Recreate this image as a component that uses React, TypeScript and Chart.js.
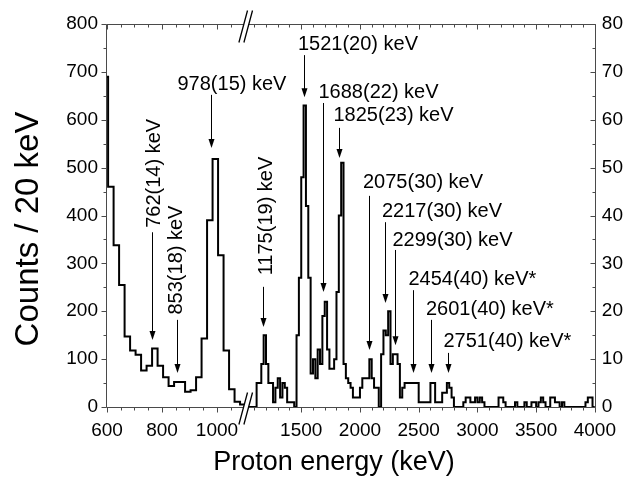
import React, { useEffect, useRef } from 'react';
import { Chart, registerables } from 'chart.js';

Chart.register(...registerables);

// ---------------- data ----------------
const BIN_WIDTH = 20; // keV
const LEFT_FIRST_EDGE = 584; // keV, left (low-energy) segment bin edges
const RIGHT_FIRST_EDGE = 1040; // keV, right segment bin edges

// counts / 20 keV, left axis (0-800)
const leftCounts = [690, 460, 338, 255, 147, 118, 109, 76, 86, 122, 86, 62, 44, 52, 52, 32, 35, 62, 143, 390, 518, 317, 118, 37, 11, 5, 4];

// counts / 20 keV, right axis (0-80)
const rightCounts = [
  0, 0, 0, 0, 5, 5, 9, 15, 9, 5,
  5, 1, 4, 6, 2, 5, 4, 1, 1, 1,
  0, 15, 27, 48, 63, 42, 27, 7, 10, 6,
  12, 9, 19, 22, 12, 8, 8, 10, 24, 40,
  51, 9, 6, 5, 4, 2, 2, 2, 4, 6,
  6, 6, 10, 6, 4, 4, 0, 11, 16, 15,
  20, 9, 11, 11, 9, 2, 4, 5, 5, 5,
  5, 5, 5, 1, 1, 1, 1, 1, 5, 5,
  1, 1, 1, 3, 3, 5, 4, 2, 0, 0,
  0, 0, 1, 2, 2, 1, 1, 2, 1, 2,
  1, 0, 0, 0, 0, 0, 0, 2, 2, 1,
  0, 0, 0, 0, 1, 0, 0, 0, 1, 0,
  0, 1, 1, 0, 1, 2, 1, 0, 0, 2,
  2, 1, 1, 0, 1, 0, 0, 0, 0, 0,
  0, 0, 0, 0, 1, 2, 2, 0,
];

// broken x axis
const X_MIN_E = 600;
const X_MAX_E = 4000;
const LEFT_END_E = 1110;
const RIGHT_START_E = 1040;

const xMajorLeft = [600, 800, 1000];
const xMajorRight = [1500, 2000, 2500, 3000, 3500, 4000];
const xTickLabels = ['600', '800', '1000', '1500', '2000', '2500', '3000', '3500', '4000'];
const xMinorLeft = [650, 700, 750, 850, 900, 950, 1050, 1100];
const xMinorRight = [1100, 1200, 1300, 1400, 1600, 1700, 1800, 1900, 2100, 2200, 2300, 2400, 2600, 2700, 2800, 2900, 3100, 3200, 3300, 3400, 3600, 3700, 3800, 3900];

const yMajor = [0, 100, 200, 300, 400, 500, 600, 700, 800];
const yMinor = [50, 150, 250, 350, 450, 550, 650, 750];

// peak annotations
const annLabels = ['762(14) keV', '853(18) keV', '978(15) keV', '1175(19) keV', '1521(20) keV', '1688(22) keV', '1825(23) keV', '2075(30) keV', '2217(30) keV', '2299(30) keV', '2454(40) keV*', '2601(40) keV*', '2751(40) keV*'];
const annEnergies = [762, 853, 978, 1175, 1521, 1688, 1825, 2075, 2217, 2299, 2454, 2601, 2751];
// arrow start / end, in left-axis counts
const annArrowFrom = [365, 182, 652, 251, 735, 635, 583, 441, 386, 328, 244, 182, 113];
const annArrowTo = [140, 71, 541, 167, 647, 240, 520, 119, 217, 129, 71, 71, 71];
// label placement (layout): rotated?, pixel offset from arrow, vertical anchor in counts
const annLayout = [
  { rot: true, dx: 7, y: 488 },
  { rot: true, dx: 4.5, y: 307 },
  { rot: false, dx: -34, y: 673 },
  { rot: true, dx: 8, y: 399 },
  { rot: false, dx: -6.6, y: 758 },
  { rot: false, dx: -5, y: 657 },
  { rot: false, dx: -6, y: 608 },
  { rot: false, dx: -6.5, y: 470 },
  { rot: false, dx: -3.5, y: 409 },
  { rot: false, dx: -3, y: 347 },
  { rot: false, dx: -5, y: 267 },
  { rot: false, dx: -5.5, y: 203 },
  { rot: false, dx: -5, y: 137 },
];

// ---------------- axis transform ----------------
const AXIS_SPAN = 488;
const LEFT_U_PER_KEV = 0.275;
const U_BREAK = (LEFT_END_E - X_MIN_E) * LEFT_U_PER_KEV;
const RIGHT_U_PER_KEV = (AXIS_SPAN - U_BREAK) / (X_MAX_E - RIGHT_START_E);

function toU(E: number, seg: 'L' | 'R'): number {
  if (seg === 'L') return (E - X_MIN_E) * LEFT_U_PER_KEV;
  return U_BREAK + (E - RIGHT_START_E) * RIGHT_U_PER_KEV;
}

function histPoints(first: number, counts: number[], seg: 'L' | 'R', endE: number) {
  const pts = counts.map((c, i) => ({ x: toU(first + i * BIN_WIDTH, seg), y: c }));
  pts.push({ x: toU(endE, seg), y: counts[counts.length - 1] });
  return pts;
}

const FONT = 'Liberation Sans, Arial, Helvetica, sans-serif';
const FRAME = '#4a4a4a';

const decor = {
  id: 'decor',
  afterDraw(chart: any) {
    const { ctx, chartArea: a, scales } = chart;
    const xs = scales.x;
    const ys = scales.y;
    const px = (E: number, seg: 'L' | 'R') => xs.getPixelForValue(toU(E, seg));
    ctx.save();

    // frame
    ctx.strokeStyle = FRAME;
    ctx.lineWidth = 1;
    const L = Math.round(a.left) - 0.5;
    const R = Math.round(a.right) + 0.5;
    const T = Math.round(a.top) + 0.5;
    const B = Math.round(a.bottom) + 0.5;
    ctx.beginPath();
    ctx.moveTo(L, T); ctx.lineTo(R, T); ctx.lineTo(R, B); ctx.lineTo(L, B); ctx.closePath();
    ctx.stroke();

    // x ticks (bottom outward, top inward)
    const xt = (E: number, seg: 'L' | 'R', len: number) => {
      const x = Math.round(px(E, seg)) + 0.5;
      ctx.moveTo(x, B); ctx.lineTo(x, B + len);
      ctx.moveTo(x, T); ctx.lineTo(x, T + len);
    };
    ctx.beginPath();
    xMajorLeft.forEach((E) => xt(E, 'L', 5));
    xMinorLeft.forEach((E) => xt(E, 'L', 3));
    xMajorRight.forEach((E) => xt(E, 'R', 5));
    xMinorRight.forEach((E) => xt(E, 'R', 3));
    // y ticks (left outward, right inward)
    const yt = (v: number, len: number) => {
      const y = Math.round(ys.getPixelForValue(v)) + 0.5;
      ctx.moveTo(L, y); ctx.lineTo(L - len, y);
      ctx.moveTo(R, y); ctx.lineTo(R - len, y);
    };
    yMajor.forEach((v) => yt(v, 5));
    yMinor.forEach((v) => yt(v, 3));
    ctx.stroke();

    // axis break marks
    const bx = xs.getPixelForValue(U_BREAK) - 1.5;
    const drawBreak = (cy: number) => {
      const h = 16, lean = 4.3, gap = 5;
      const ax0 = bx - gap / 2 - lean, ax1 = bx - gap / 2 + lean;
      ctx.fillStyle = '#fff';
      ctx.beginPath();
      ctx.moveTo(ax0, cy + h); ctx.lineTo(ax1, cy - h);
      ctx.lineTo(ax1 + gap, cy - h); ctx.lineTo(ax0 + gap, cy + h);
      ctx.closePath();
      ctx.fill();
      ctx.strokeStyle = '#000';
      ctx.lineWidth = 1.3;
      ctx.beginPath();
      ctx.moveTo(ax0, cy + h); ctx.lineTo(ax1, cy - h);
      ctx.moveTo(ax0 + gap, cy + h); ctx.lineTo(ax1 + gap, cy - h);
      ctx.stroke();
    };
    drawBreak(a.top + 2.5);
    drawBreak(a.bottom + 1.5);

    // annotations
    ctx.fillStyle = '#000';
    ctx.strokeStyle = '#000';
    ctx.lineWidth = 1;
    ctx.font = `20px ${FONT}`;
    annLabels.forEach((label, i) => {
      const seg = annEnergies[i] < 1100 ? 'L' : 'R';
      const x = Math.round(px(annEnergies[i], seg)) + 0.5;
      const y1 = ys.getPixelForValue(annArrowFrom[i]);
      const y2 = ys.getPixelForValue(annArrowTo[i]);
      ctx.beginPath();
      ctx.moveTo(x, y1); ctx.lineTo(x, y2 - 6);
      ctx.stroke();
      ctx.beginPath();
      ctx.moveTo(x - 3, y2 - 9); ctx.lineTo(x + 3, y2 - 9); ctx.lineTo(x, y2);
      ctx.closePath();
      ctx.fill();
      const lay = annLayout[i];
      const ty = ys.getPixelForValue(lay.y);
      if (lay.rot) {
        ctx.save();
        ctx.translate(x + lay.dx, ty);
        ctx.rotate(-Math.PI / 2);
        ctx.textAlign = 'center';
        ctx.textBaseline = 'alphabetic';
        ctx.fillText(label, 0, 0);
        ctx.restore();
      } else {
        ctx.textAlign = 'left';
        ctx.textBaseline = 'middle';
        ctx.fillText(label, x + lay.dx, ty);
      }
    });

    // axis titles
    ctx.font = `27px ${FONT}`;
    ctx.textAlign = 'center';
    ctx.textBaseline = 'alphabetic';
    ctx.fillText('Proton energy (keV)', 334, 470);
    ctx.save();
    ctx.font = `33px ${FONT}`;
    ctx.translate(38, 229);
    ctx.rotate(-Math.PI / 2);
    ctx.fillText('Counts / 20 keV', 0, 0);
    ctx.restore();

    ctx.restore();
  },
};

const xTickValues = [
  ...xMajorLeft.map((E) => toU(E, 'L')),
  ...xMajorRight.map((E) => toU(E, 'R')),
];

export default function App() {
  const ref = useRef<HTMLCanvasElement | null>(null);
  useEffect(() => {
    document.body.style.margin = '0';
    if (!ref.current) return;
    const tickFont = { family: FONT, size: 19 };
    const chart = new Chart(ref.current, {
      type: 'line',
      data: {
        datasets: [
          {
            data: histPoints(LEFT_FIRST_EDGE, leftCounts, 'L', LEFT_END_E),
            yAxisID: 'y',
            stepped: true,
            borderColor: '#000',
            borderWidth: 2,
            pointRadius: 0,
            fill: false,
            clip: 0,
          } as any,
          {
            data: histPoints(RIGHT_FIRST_EDGE, rightCounts, 'R', X_MAX_E),
            yAxisID: 'y2',
            stepped: true,
            borderColor: '#000',
            borderWidth: 2,
            pointRadius: 0,
            fill: false,
            clip: 0,
          } as any,
        ],
      },
      options: {
        responsive: false,
        animation: false,
        layout: { padding: { top: 24, left: 0, right: 0, bottom: 0 } },
        plugins: { legend: { display: false }, tooltip: { enabled: false } },
        scales: {
          x: {
            type: 'linear',
            min: 0,
            max: AXIS_SPAN,
            grid: { display: false, drawTicks: false },
            border: { display: false },
            afterBuildTicks: (s: any) => {
              s.ticks = xTickValues.map((v) => ({ value: v }));
            },
            ticks: {
              autoSkip: false,
              maxRotation: 0,
              minRotation: 0,
              color: '#000',
              font: tickFont,
              padding: 12,
              callback: (_v: any, i: number) => xTickLabels[i],
            },
            afterFit: (s: any) => {
              s.height = 72;
            },
          },
          y: {
            position: 'left',
            min: 0,
            max: 800,
            grid: { display: false, drawTicks: false },
            border: { display: false },
            ticks: { stepSize: 100, color: '#000', font: tickFont, padding: 9 },
            afterFit: (s: any) => {
              s.width = 107;
            },
          },
          y2: {
            position: 'right',
            min: 0,
            max: 80,
            grid: { display: false, drawTicks: false },
            border: { display: false },
            ticks: { stepSize: 10, color: '#000', font: tickFont, padding: 7 },
            afterFit: (s: any) => {
              s.width = 33;
            },
          },
        },
      } as any,
      plugins: [decor],
    });
    return () => chart.destroy();
  }, []);
  return <canvas ref={ref} width={628} height={479} style={{ display: 'block' }} />;
}
